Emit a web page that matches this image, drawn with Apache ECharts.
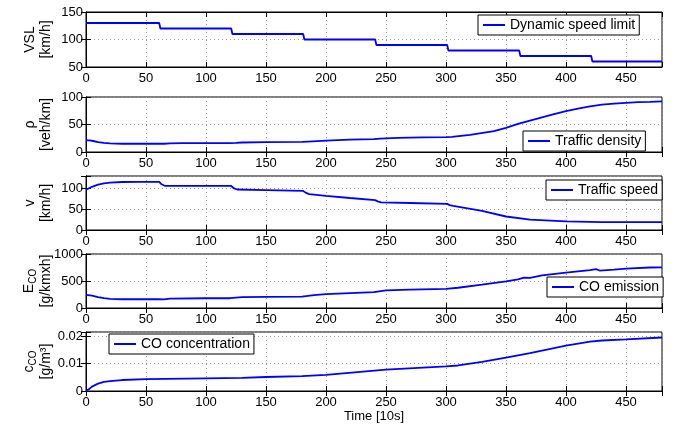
<!DOCTYPE html>
<html>
<head>
<meta charset="utf-8">
<script src="https://cdn.jsdelivr.net/npm/echarts@6/dist/echarts.min.js"></script>
<style>
html,body{margin:0;padding:0;background:#fff;}
#chart{width:683px;height:426px;}
</style>
</head>
<body>
<div id="chart"></div>
<script>
// ---- data ----
const xTickLabels = [0, 50, 100, 150, 200, 250, 300, 350, 400, 450];

const timeVsl = [0, 61, 62, 121, 122, 181, 182, 241, 242, 301, 302, 361, 362, 421, 422, 480];
const vsl     = [130, 130, 120, 120, 110, 110, 100, 100, 90, 90, 80, 80, 70, 70, 60, 60];

const timeDensity = [0, 3, 6, 10, 15, 20, 30, 40, 50, 60, 65, 70, 80, 100, 120, 125, 130, 150, 180, 185, 200, 220, 240, 245, 260, 280, 300, 305, 320, 340, 350, 360, 370, 380, 390, 400, 410, 420, 430, 440, 450, 460, 470, 480];
const density     = [21, 21, 20, 18, 16.5, 15.5, 15, 15, 15, 15, 15, 15.8, 16, 16.2, 16.3, 16.5, 17.3, 17.8, 18.3, 19, 20.8, 22.5, 23.5, 24.5, 25.8, 26.5, 27, 27.5, 31, 38, 44, 51, 57, 63, 69, 74.5, 79, 83, 86, 88, 89.5, 90.5, 91, 92];

const timeSpeed = [0, 5, 10, 15, 20, 30, 45, 61, 63, 66, 90, 121, 123, 126, 150, 181, 183, 186, 200, 220, 241, 243, 246, 270, 301, 303, 306, 330, 350, 370, 400, 430, 480];
const speed     = [97, 104, 109, 112, 114, 115.5, 116, 116, 110, 106, 106, 106, 101, 97.5, 96, 94, 90, 86.5, 82, 77, 72, 69, 66.5, 65, 63, 60, 58, 46, 32.5, 25, 21, 19, 19];

const timeEmission = [0, 5, 10, 15, 20, 30, 45, 60, 65, 70, 100, 120, 130, 150, 180, 190, 200, 220, 240, 250, 270, 300, 310, 330, 350, 360, 365, 370, 380, 400, 420, 425, 428, 440, 450, 470, 480];
const emission     = [244, 231, 200, 181, 169, 162, 162, 162, 158, 175, 181, 181, 200, 206, 212, 237, 256, 276, 294, 325, 340, 356, 375, 431, 494, 531, 562, 556, 606, 656, 700, 719, 694, 712, 731, 750, 752];

const timeConc = [0, 3, 5, 10, 15, 20, 30, 50, 100, 130, 150, 180, 200, 250, 300, 310, 330, 350, 370, 400, 420, 430, 450, 480];
const conc     = [0, 0.00086, 0.0016, 0.0027, 0.0033, 0.0036, 0.0040, 0.0043, 0.0046, 0.0048, 0.0051, 0.0054, 0.0059, 0.0078, 0.0090, 0.0093, 0.0106, 0.0122, 0.0138, 0.0165, 0.0180, 0.0184, 0.0188, 0.0195];

const seriesNames = ['Dynamic speed limit', 'Traffic density', 'Traffic speed', 'CO emission', 'CO concentration'];
const yNames = [
  'VSL\n[km/h]',
  'ρ\n[veh/km]',
  'v\n[km/h]',
  '{m|E}{s|CO}\n{n|[g/kmxh]}',
  '{m|c}{s|CO}\n{n|[g/m³]}'
];
// ---- layout ----
const FONT = '"Liberation Sans", Arial, Helvetica, sans-serif';
const grids = [
  {top: 12, height: 55},
  {top: 97, height: 55},
  {top: 176, height: 54},
  {top: 254, height: 54},
  {top: 332, height: 59}
];
const yScales = [
  {min: 50, max: 150, interval: 50},
  {min: 0, max: 100, interval: 50},
  {min: 0, max: 130, interval: 50},
  {min: 0, max: 1000, interval: 500},
  {min: 0, max: 0.0215, interval: 0.01}
];
const legendPos = [
  {left: 478, top: 15},
  {left: 523, top: 131},
  {left: 546, top: 180},
  {left: 547, top: 277},
  {left: 109, top: 334}
];
const seriesData = [
  [timeVsl, vsl], [timeDensity, density], [timeSpeed, speed], [timeEmission, emission], [timeConc, conc]
];

function onTick(v, iv) {
  const r = v / iv;
  return Math.abs(r - Math.round(r)) < 1e-6;
}
function fmt(v, iv) {
  if (!onTick(v, iv)) return '';
  return String(Math.round(v * 10000) / 10000);
}

const option = {
  animation: false,
  backgroundColor: '#fff',
  textStyle: {fontFamily: FONT},
  grid: [], xAxis: [], yAxis: [], series: [], legend: []
};

const xTickSet = new Set(xTickLabels);
grids.forEach((g, i) => {
  option.grid.push({left: 86, width: 576, top: g.top, height: g.height, show: true,
    borderColor: '#000', borderWidth: 1, backgroundColor: '#fff', containLabel: false});
  const isLast = i === grids.length - 1;
  option.xAxis.push({
    type: 'value', gridIndex: i, position: 'bottom', min: 0, max: 480, interval: 50,
    axisLine: {show: true, lineStyle: {color: '#000', width: 1}},
    axisTick: {show: true, inside: true, length: 5, lineStyle: {color: '#000'}},
    axisLabel: {show: true, color: '#000', fontSize: 13, fontFamily: FONT, margin: 5,
      formatter: v => xTickSet.has(v) ? String(v) : ''},
    splitLine: {show: true, lineStyle: {color: '#999', type: [1, 3], width: 1}},
    name: isLast ? 'Time [10s]' : '',
    nameLocation: 'middle', nameGap: 19, nameMoveOverlap: false,
    nameTextStyle: {color: '#000', fontSize: 13, fontFamily: FONT}
  });
  option.xAxis.push({
    type: 'value', gridIndex: i, position: 'top', min: 0, max: 480, interval: 50,
    axisLine: {show: true, lineStyle: {color: '#000', width: 1}},
    axisTick: {show: true, inside: true, length: 5, lineStyle: {color: '#000'}},
    axisLabel: {show: false}, splitLine: {show: false}
  });
  const ys = yScales[i];
  option.yAxis.push({
    type: 'value', gridIndex: i, position: 'left', min: ys.min, max: ys.max, interval: ys.interval,
    axisLine: {show: true, lineStyle: {color: '#000', width: 1}},
    axisTick: {show: true, inside: true, length: 5, lineStyle: {color: '#000'}},
    axisLabel: {show: true, color: '#000', fontSize: 13, fontFamily: FONT, margin: 3,
      formatter: v => fmt(v, ys.interval)},
    splitLine: {show: true, lineStyle: {color: '#999', type: [1, 3], width: 1}},
    name: yNames[i], nameLocation: 'middle', nameRotate: 90, nameGap: 32, nameMoveOverlap: false,
    nameTextStyle: {color: '#000', fontSize: 14, lineHeight: 16, fontFamily: FONT, align: 'center',
      rich: {
        m: {fontSize: 14, lineHeight: 16, verticalAlign: 'top', fontFamily: FONT, color: '#000'},
        s: {fontSize: 10, lineHeight: 10, verticalAlign: 'bottom', fontFamily: FONT, color: '#000', padding: [12, 0, 0, 0]},
        n: {fontSize: 14, lineHeight: 16, fontFamily: FONT, color: '#000'}
      }}
  });
  option.yAxis.push({
    type: 'value', gridIndex: i, position: 'right', min: ys.min, max: ys.max, interval: ys.interval,
    axisLine: {show: true, lineStyle: {color: '#000', width: 1}},
    axisTick: {show: true, inside: true, length: 5, lineStyle: {color: '#000'}},
    axisLabel: {show: false}, splitLine: {show: false}
  });
  const [t, vals] = seriesData[i];
  option.series.push({
    name: seriesNames[i], type: 'line', xAxisIndex: 2 * i, yAxisIndex: 2 * i,
    data: t.map((x, k) => [x, vals[k]]),
    symbol: 'none', showSymbol: false, smooth: false,
    lineStyle: {color: '#0000ff', width: 1.8}, itemStyle: {color: '#0000ff'}
  });
  option.legend.push({
    data: [seriesNames[i]], left: legendPos[i].left, top: legendPos[i].top,
    orient: 'horizontal', backgroundColor: '#fff', borderColor: '#000', borderWidth: 1,
    padding: [3, 4, 3, 5], itemWidth: 22, itemHeight: 2, icon: 'rect', selectedMode: false,
    itemStyle: {color: '#0000ff'},
    textStyle: {color: '#000', fontSize: 14, lineHeight: 14, fontFamily: FONT}
  });
});

const chart = echarts.init(document.getElementById('chart'), null, {renderer: 'canvas'});
chart.setOption(option);
</script>
</body>
</html>
